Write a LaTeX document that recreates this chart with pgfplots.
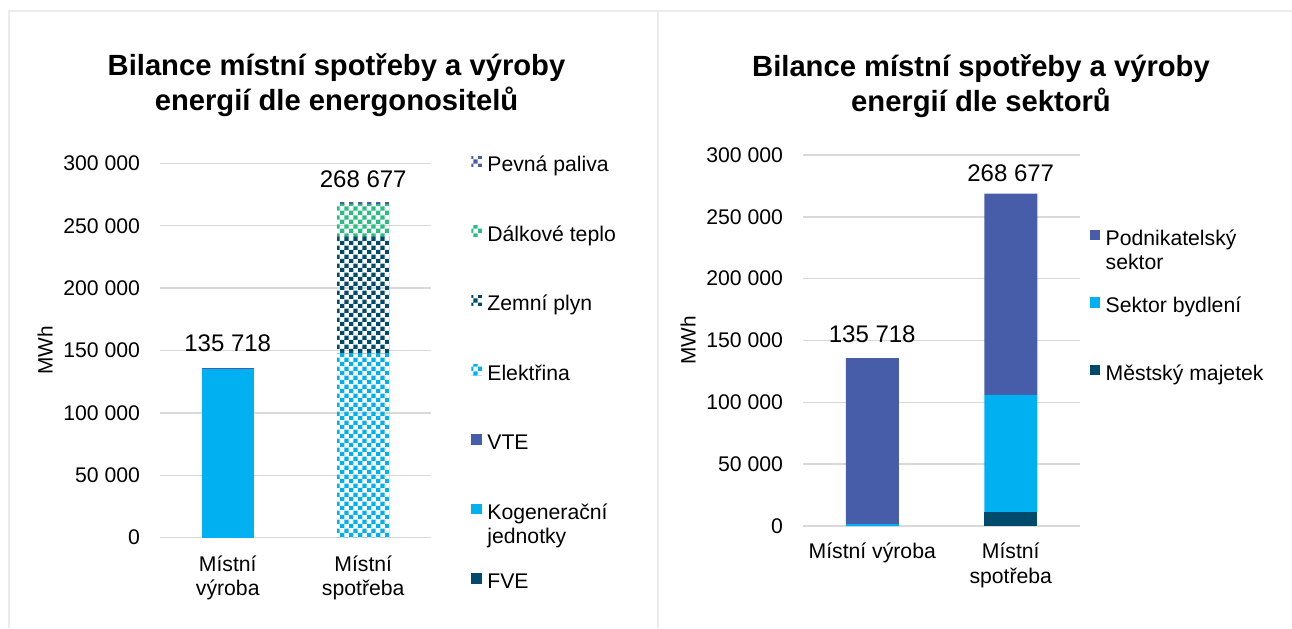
\documentclass[border=0pt]{standalone}
\usepackage{fontspec}
\setmainfont{Liberation Sans}
\usepackage{pgfplots}
\pgfplotsset{compat=1.18}
\usetikzlibrary{patterns}
\definecolor{cFVE}{HTML}{004A6B}
\definecolor{cKog}{HTML}{00B0F0}
\definecolor{cVTE}{HTML}{475DA9}
\definecolor{cTep}{HTML}{29BD80}
\definecolor{gridgray}{HTML}{D9D9D9}
\definecolor{framegray}{HTML}{EBEBEB}
\pgfdeclarepatternformonly{chk}{\pgfqpoint{0pt}{0pt}}{\pgfqpoint{4.6pt}{4.6pt}}{\pgfqpoint{4.6pt}{4.6pt}}{%
  \pgfpathrectangle{\pgfqpoint{0pt}{0pt}}{\pgfqpoint{2.3pt}{2.3pt}}%
  \pgfpathrectangle{\pgfqpoint{2.3pt}{2.3pt}}{\pgfqpoint{2.3pt}{2.3pt}}%
  \pgfusepath{fill}}
\pgfplotsset{
  common/.style={
    scale only axis, ybar stacked, ymin=0, ymax=300000, xmin=-0.5, xmax=1.5,
    xtick={0,1}, ytick={0,50000,100000,150000,200000,250000,300000},
    yticklabels={0,50 000,100 000,150 000,200 000,250 000,300 000},
    scaled y ticks=false,
    ymajorgrids, major grid style={gridgray, line width=0.75pt},
    axis line style={draw=none}, major tick length=0pt,
    tick label style={font=\fontsize{10.6}{12.2}\selectfont, text=black},
    yticklabel style={xshift=-6.5pt},
    xticklabel style={align=center, yshift=-5.5pt},
    clip=false,
    every axis y label/.style={rotate=90, anchor=center, font=\fontsize{10.4}{12.2}\selectfont},
    legend cell align=left, reverse legend,
    legend image code/.code={\fill[##1] (0pt,-0.2pt) rectangle (5.2pt,5pt);},
    legend style={draw=none, fill=none, anchor=north west, inner sep=0pt,
      font=\fontsize{10.6}{12.2}\selectfont, column sep=2.8pt,
      nodes={inner sep=0pt, text height=7.5pt, text depth=2pt}},
  }
}
\begin{document}
\begin{tikzpicture}
\path[use as bounding box] (0,0) rectangle (646pt,314pt);
\draw[framegray, line width=0.75pt] (646pt,308.5pt) -- (4.5pt,308.5pt) -- (4.5pt,0pt);
\draw[framegray, line width=0.75pt] (329pt,308.5pt) -- (329pt,0pt);
\node[align=center, font=\fontsize{14.6}{17.5}\selectfont\bfseries] at (168.25pt,271.2pt) {Bilance místní spotřeby a výroby\\energií dle energonositelů};
\node[align=center, font=\fontsize{14.6}{17.5}\selectfont\bfseries] at (490.5pt,270.8pt) {Bilance místní spotřeby a výroby\\energií dle sektorů};

\begin{axis}[common, at={(80pt,45.15pt)}, anchor=south west,
  width=135.5pt, height=187.2pt, bar width=26.15pt,
  xticklabels={{Místní\\výroba},{Místní\\spotřeba}},
  ylabel={MWh}, ylabel style={at={(rel axis cs:-0.424,0.5)}},
  legend style={at={(1.1476,1.02)}, row sep=25pt}]
\addplot[fill=cFVE, draw=none] coordinates {(0,0) (1,0)};
\addlegendentry{FVE}
\addplot[fill=cKog, draw=none] coordinates {(0,135018) (1,0)};
\addlegendentry{\smash{\makebox[0pt][l]{\raisebox{-12.2pt}{jednotky}}}Kogenerační}
\addplot[fill=cVTE, draw=none] coordinates {(0,700) (1,0)};
\addlegendentry{VTE}
\addplot[pattern=chk, pattern color=cKog, draw=none] coordinates {(0,0) (1,147800)};
\addlegendentry{Elektřina}
\addplot[pattern=chk, pattern color=cFVE, draw=none] coordinates {(0,0) (1,93400)};
\addlegendentry{Zemní plyn}
\addplot[pattern=chk, pattern color=cTep, draw=none] coordinates {(0,0) (1,25400)};
\addlegendentry{Dálkové teplo}
\addplot[pattern=chk, pattern color=cVTE, draw=none] coordinates {(0,0) (1,2077)};
\addlegendentry{Pevná paliva}
\node[anchor=base, yshift=8.3pt, font=\fontsize{12}{14}\selectfont] at (axis cs:0,135718) {135 718};
\node[anchor=base, yshift=7.2pt, font=\fontsize{12}{14}\selectfont] at (axis cs:1,268677) {268 677};
\end{axis}

\begin{axis}[common, at={(401.5pt,51pt)}, anchor=south west,
  width=138.5pt, height=185.5pt, bar width=26.5pt,
  xticklabels={{Místní výroba},{Místní\\spotřeba}},
  xticklabel style={yshift=0.5pt},
  ylabel={MWh}, ylabel style={at={(rel axis cs:-0.415,0.5)}},
  legend style={at={(1.0336,0.80)}, row sep=24pt}]
\addplot[fill=cFVE, draw=none] coordinates {(0,0) (1,11000)};
\addlegendentry{Městský majetek}
\addplot[fill=cKog, draw=none] coordinates {(0,1500) (1,95000)};
\addlegendentry{Sektor bydlení}
\addplot[fill=cVTE, draw=none] coordinates {(0,134218) (1,162677)};
\addlegendentry{\smash{\makebox[0pt][l]{\raisebox{-12.2pt}{sektor}}}Podnikatelský}
\node[anchor=base, yshift=8pt, font=\fontsize{12}{14}\selectfont] at (axis cs:0,135718) {135 718};
\node[anchor=base, yshift=6.2pt, font=\fontsize{12}{14}\selectfont] at (axis cs:1,268677) {268 677};
\end{axis}
\end{tikzpicture}
\end{document}
